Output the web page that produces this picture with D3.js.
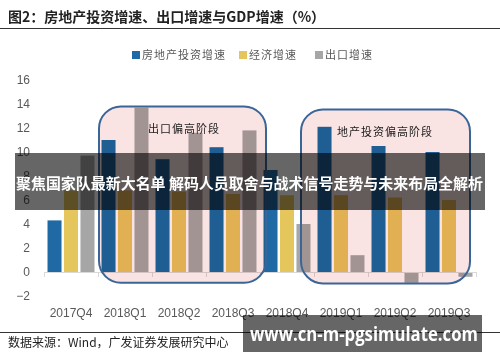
<!DOCTYPE html>
<html>
<head>
<meta charset="utf-8">
<script src="https://cdn.jsdelivr.net/npm/d3@7"></script>
<style>
  body { margin: 0; background: #fff; }
  svg { display: block; font-family: "Liberation Sans", Arial, sans-serif; }
  .cjk { font-family: "Noto Sans CJK SC", sans-serif; }
</style>
</head>
<body>
<svg id="chart"></svg>
<script>
// quarters on the x axis
var categories = ["2017Q4", "2018Q1", "2018Q2", "2018Q3", "2018Q4", "2019Q1", "2019Q2", "2019Q3"];
// series (%)
var seriesNames = ["房地产投资增速", "经济增速", "出口增速"];
var realEstate = [4.3, 11.0, 9.4, 10.4, 8.5, 12.1, 10.5, 10.0];
var gdp = [6.8, 6.8, 6.7, 6.5, 6.4, 6.4, 6.2, 6.0];
var exportsGrowth = [9.7, 13.7, 11.6, 11.8, 4.0, 1.4, -0.9, -0.4];
var yTicks = [-2, 0, 2, 4, 6, 8, 10, 12, 14, 16];
// highlighted phases
var phaseLabels = ["出口偏高阶段", "地产投资偏高阶段"];
var phaseFrom = ["2018Q1", "2019Q1"];
var phaseTo = ["2018Q3", "2019Q3"];
var phaseTop = [13.8, 13.55];
var phaseBottom = [-0.9, -0.95];

var colors = ["#1f6aa5", "#e5c65c", "#a6a6a6"];
var svgWidth = 500, svgHeight = 362;
var margin = { left: 44, right: 24 };

var svg = d3.select("#chart")
    .attr("width", svgWidth)
    .attr("height", svgHeight);

// title + rule
svg.append("text")
    .attr("class", "cjk")
    .attr("x", 8).attr("y", 22)
    .attr("font-size", 14).attr("font-weight", "bold")
    .attr("fill", "#222")
    .text("图2：房地产投资增速、出口增速与GDP增速（%）");
svg.append("line")
    .attr("x1", 0).attr("x2", svgWidth).attr("y1", 28.5).attr("y2", 28.5)
    .attr("stroke", "#333").attr("stroke-width", 1);

// legend
var legendX = [132, 239, 315];
var legend = svg.append("g").selectAll("g")
    .data(seriesNames)
    .join("g")
    .attr("transform", function(d, i) { return "translate(" + legendX[i] + ",51)"; });
legend.append("rect")
    .attr("width", 8).attr("height", 8)
    .attr("fill", function(d, i) { return colors[i]; });
legend.append("text")
    .attr("class", "cjk")
    .attr("x", 10).attr("y", 8)
    .attr("font-size", 11).attr("letter-spacing", 1)
    .attr("fill", "#595959")
    .text(function(d) { return d; });

var x = d3.scaleBand()
    .domain(categories)
    .range([margin.left, svgWidth - margin.right])
    .paddingInner(0.13)
    .paddingOuter(0.065);

var xs = d3.scaleBand()
    .domain(d3.range(3))
    .range([0, x.bandwidth()])
    .paddingInner(0.15);

var y = d3.scaleLinear()
    .domain([-2, 16])
    .range([296, 80]);

// y axis labels
var yAxis = svg.append("g")
    .attr("transform", "translate(" + margin.left + ",0)")
    .call(d3.axisLeft(y).tickValues(yTicks).tickSize(0).tickPadding(14));
yAxis.select(".domain").remove();
yAxis.selectAll("text")
    .attr("font-size", 12)
    .attr("font-family", "Liberation Sans, Arial, sans-serif")
    .attr("fill", "#595959");

// bars
var seriesValues = [realEstate, gdp, exportsGrowth];
var rows = [];
categories.forEach(function(c, i) {
    seriesValues.forEach(function(vals, s) {
        rows.push({ cat: c, s: s, v: vals[i] });
    });
});
svg.append("g").selectAll("rect")
    .data(rows)
    .join("rect")
    .attr("x", function(d) { return x(d.cat) + xs(d.s); })
    .attr("width", xs.bandwidth())
    .attr("y", function(d) { return y(Math.max(0, d.v)); })
    .attr("height", function(d) { return Math.abs(y(d.v) - y(0)); })
    .attr("fill", function(d) { return colors[d.s]; });

// zero line with ticks between categories
var step = x.step();
var bounds = categories.map(function(c) { return x(c) - step * x.paddingInner() / 2; });
bounds.push(svgWidth - margin.right);
var base = svg.append("g").attr("stroke", "#d9d9d9").attr("stroke-width", 1);
base.append("line")
    .attr("x1", margin.left).attr("x2", svgWidth - margin.right)
    .attr("y1", y(0) + 0.5).attr("y2", y(0) + 0.5);
base.selectAll("line.tk")
    .data(bounds)
    .join("line")
    .attr("class", "tk")
    .attr("x1", function(d) { return Math.round(d) + 0.5; })
    .attr("x2", function(d) { return Math.round(d) + 0.5; })
    .attr("y1", y(0)).attr("y2", y(0) + 5);

// category labels at the bottom
var xAxis = svg.append("g")
    .attr("transform", "translate(0," + y(-2) + ")")
    .call(d3.axisBottom(x).tickSize(0).tickPadding(12));
xAxis.select(".domain").remove();
xAxis.selectAll("text")
    .attr("font-size", 12)
    .attr("font-family", "Liberation Sans, Arial, sans-serif")
    .attr("fill", "#595959");

// phase boxes
var phases = phaseLabels.map(function(l, i) {
    return { label: l, from: phaseFrom[i], to: phaseTo[i], top: phaseTop[i], bottom: phaseBottom[i], i: i };
});
var padL = [1, -13], padR = [6, -6], textOff = [49, 36];
var box = svg.append("g").selectAll("g")
    .data(phases)
    .join("g");
function bx(d) { return x(d.from) - step * x.paddingInner() / 2 + padL[d.i]; }
function bw(d) { return x(d.to) + x.bandwidth() + step * x.paddingInner() / 2 + padR[d.i] - bx(d); }
box.append("rect")
    .attr("x", bx).attr("width", bw)
    .attr("y", function(d) { return y(d.top); })
    .attr("height", function(d) { return y(d.bottom) - y(d.top); })
    .attr("rx", 22)
    .attr("fill", "#fae3e3")
    .style("mix-blend-mode", "multiply");
box.append("rect")
    .attr("x", bx).attr("width", bw)
    .attr("y", function(d) { return y(d.top); })
    .attr("height", function(d) { return y(d.bottom) - y(d.top); })
    .attr("rx", 22)
    .attr("fill", "none")
    .attr("stroke", "#3a6597")
    .attr("stroke-width", 2);
box.append("text")
    .attr("class", "cjk")
    .attr("x", function(d) { return bx(d) + textOff[d.i]; })
    .attr("y", function(d) { return y(d.top) + 27; })
    .attr("font-size", 11).attr("letter-spacing", 1)
    .attr("fill", "#222")
    .text(function(d) { return d.label; });

// bottom rule + source
svg.append("line")
    .attr("x1", 0).attr("x2", svgWidth).attr("y1", 332.5).attr("y2", 332.5)
    .attr("stroke", "#333").attr("stroke-width", 1);
svg.append("text")
    .attr("class", "cjk")
    .attr("x", 8).attr("y", 347)
    .attr("font-size", 12)
    .attr("fill", "#222")
    .text("数据来源：Wind，广发证券发展研究中心");

// overlay banner
svg.append("rect")
    .attr("x", 15).attr("y", 153).attr("width", 470).attr("height", 57)
    .attr("fill", "rgba(0,0,0,0.6)");
svg.append("text")
    .attr("class", "cjk")
    .attr("x", 16).attr("y", 189)
    .attr("font-size", 15).attr("font-weight", "bold")
    .attr("fill", "#fff")
    .attr("textLength", 467).attr("lengthAdjust", "spacingAndGlyphs")
    .text("聚焦国家队最新大名单 解码人员取舍与战术信号走势与未来布局全解析");

// watermark
svg.append("rect")
    .attr("x", 243).attr("y", 315).attr("width", 239).attr("height", 37)
    .attr("fill", "rgba(0,0,0,0.6)");
svg.append("text")
    .attr("x", 250).attr("y", 341)
    .attr("font-family", "Open Sans, DejaVu Sans, sans-serif")
    .attr("font-size", 19).attr("font-weight", "bold")
    .attr("fill", "#fff")
    .attr("textLength", 228).attr("lengthAdjust", "spacingAndGlyphs")
    .text("www.cn-m-pgsimulate.com");
</script>
</body>
</html>
